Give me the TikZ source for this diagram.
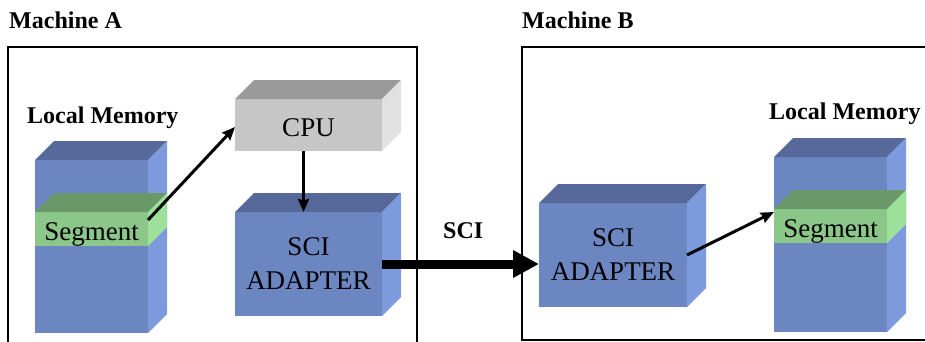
\documentclass[tikz,border=0pt]{standalone}
\usepackage{fontspec}
\setmainfont{Liberation Serif}
\usetikzlibrary{arrows.meta,calc}

\definecolor{bluefront}{HTML}{6C86C2}
\definecolor{bluetop}{HTML}{56699A}
\definecolor{blueside}{HTML}{7C9ADC}
\definecolor{greenfront}{HTML}{8CC78A}
\definecolor{greentop}{HTML}{6A9868}
\definecolor{greenside}{HTML}{9DE09A}
\definecolor{grayfront}{HTML}{C6C6C6}
\definecolor{graytop}{HTML}{9A9A9A}
\definecolor{grayside}{HTML}{E1E1E1}

% top and right faces of a box whose front face is the node #1
\newcommand\boxfaces[3]{%
  \fill[#2] (#1.north west) -- ++(19,-19) -- ([shift={(19,-19)}]#1.north east)
            -- (#1.north east) -- cycle;
  \fill[#3] (#1.north east) -- ++(19,-19) -- ([shift={(19,-19)}]#1.south east)
            -- (#1.south east) -- cycle;
}

\tikzset{
  front/.style={inner sep=0pt, outer sep=0pt,
    font=\fontsize{27pt}{34pt}\selectfont, align=center},
  oneline/.style={text height=22pt, text depth=0pt},
  heading/.style={font=\bfseries\fontsize{24pt}{29pt}\selectfont,
    inner sep=0pt, anchor=base west},
  frame/.style={draw=black, line width=1.2pt},
  thin arrow/.style={line width=3pt,
    -{Stealth[length=13pt,width=11pt,inset=1.5pt]}},
  bus arrow/.style={line width=9pt,
    -{Triangle[length=26pt,width=26pt]}},
}

\begin{document}
\begin{tikzpicture}[x=1pt,y=-1pt]
  \useasboundingbox (0,0) rectangle (925,341);
  \clip (0,0) rectangle (925,341);

  % machine frames
  \draw[frame] (8,47) rectangle (417,360);
  \draw[frame] (522,47) rectangle (940,340);

  \node[heading] (titleA) at (9,28) {Machine A};
  \node[heading] (titleB) at (522,28) {Machine B};
  \node[heading] (memlabelA) at (27,123) {Local Memory};
  \node[heading] (memlabelB) at (769,119) {Local Memory};
  \node[heading] (scilabel) at (443,238) {SCI};

  % Machine A: local memory with segment
  \node[front, fill=bluefront, minimum width=113pt, minimum height=173pt]
    (memA) at (91.5,246.5) {};
  \boxfaces{memA}{bluetop}{blueside}
  \node[front, oneline, fill=greenfront, minimum width=113pt, minimum height=34pt]
    (segA) at (91.5,229) {Segment};
  \boxfaces{segA}{greentop}{greenside}

  % Machine A: CPU and adapter
  \node[front, oneline, fill=grayfront, minimum width=147pt, minimum height=52pt]
    (cpuA) at (308.5,125) {CPU};
  \boxfaces{cpuA}{graytop}{grayside}
  \node[front, fill=bluefront, minimum width=147pt, minimum height=104pt]
    (adA) at (308.5,264) {SCI\\ADAPTER};
  \boxfaces{adA}{bluetop}{blueside}

  % Machine B: adapter and local memory with segment
  \node[front, fill=bluefront, minimum width=148pt, minimum height=104pt]
    (adB) at (613,255) {SCI\\ADAPTER};
  \boxfaces{adB}{bluetop}{blueside}
  \node[front, fill=bluefront, minimum width=113pt, minimum height=175pt]
    (memB) at (830.5,244.5) {};
  \boxfaces{memB}{bluetop}{blueside}
  \node[front, oneline, fill=greenfront, minimum width=113pt, minimum height=34pt]
    (segB) at (830.5,226) {Segment};
  \boxfaces{segB}{greentop}{greenside}

  % data paths
  \draw[thin arrow] ([yshift=9pt]segA.east) -- ([yshift=-2pt]cpuA.west);
  \draw[thin arrow] ([xshift=-5pt]cpuA.south) -- ([xshift=-5pt]adA.north);
  \draw[bus arrow] (adA.east) -- (adA.east -| adB.west);
  \draw[thin arrow] (adB.east) -- ([yshift=14pt]segB.west);
\end{tikzpicture}
\end{document}
